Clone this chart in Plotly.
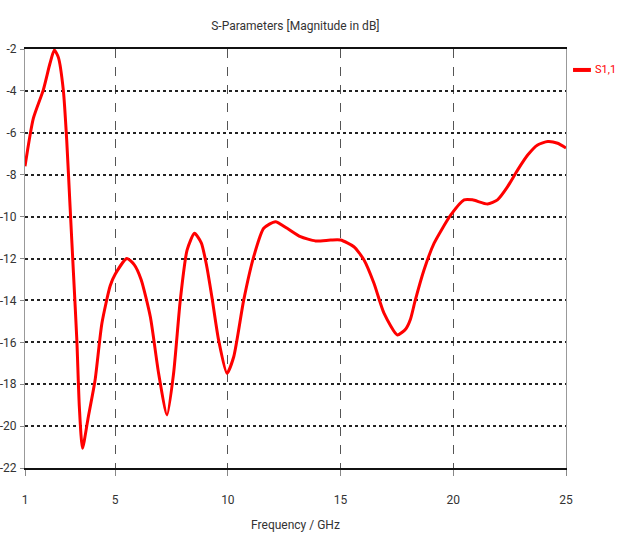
import plotly.graph_objects as go

# S11 magnitude of the antenna, sampled along the frequency sweep
freq_ghz = [1.0, 1.37, 1.81, 2.11, 2.30, 2.48, 2.70, 2.85, 3.0, 3.15, 3.30, 3.41, 3.55,
            3.81, 4.11, 4.41, 4.78, 5.0, 5.52, 5.85, 6.15, 6.56, 6.93, 7.30, 7.59, 7.89,
            8.19, 8.52, 8.82, 9.05, 9.30, 9.59, 9.96, 10.26, 10.70, 11.15, 11.59, 12.11,
            12.63, 13.22, 13.89, 14.56, 15.0, 15.59, 16.04, 16.48, 16.93, 17.52,
            17.9, 18.1, 18.3, 18.7, 19.15, 19.89, 20.48, 20.85, 21.52, 21.96, 22.41,
            22.85, 23.3, 23.74, 24.19, 24.63, 25.0]
s11_db = [-7.6, -5.31, -3.96, -2.68, -2.05, -2.4, -3.96, -6.34, -9.53, -12.7, -15.9,
          -19.07, -21.06, -19.55, -17.8, -15.1, -13.3, -12.75, -12.0, -12.3, -13.0,
          -14.78, -17.5, -19.47, -17.5, -13.98, -11.6, -10.8, -11.25, -12.3, -13.9,
          -15.9, -17.48, -16.69, -14.0, -11.9, -10.56, -10.24, -10.56, -10.96, -11.16,
          -11.12, -11.12, -11.44, -12.07, -13.18, -14.62, -15.65, -15.35, -14.9,
          -14.05, -12.55, -11.27, -9.92, -9.2, -9.2, -9.4, -9.2, -8.57, -7.78, -7.06,
          -6.58, -6.42, -6.5, -6.72]

x_ticks = [1, 5, 10, 15, 20, 25]
y_ticks = [-2, -4, -6, -8, -10, -12, -14, -16, -18, -20, -22]

FONT = "Roboto, Liberation Sans, sans-serif"
TEXT = "#333333"
RED = "#ff0000"

fig = go.Figure()
fig.add_trace(go.Scatter(
    x=freq_ghz, y=s11_db, mode="lines", name="S1,1",
    line=dict(color=RED, width=3, shape="spline", smoothing=0.6),
    showlegend=False,
))

# legend key drawn in the right margin
fig.add_shape(type="line", xref="paper", yref="paper",
              x0=1.013, x1=1.046, y0=0.950, y1=0.950,
              line=dict(color=RED, width=4))
fig.add_annotation(text="S1,1", xref="paper", yref="paper",
                   x=1.050, y=0.950, xanchor="left", yanchor="middle",
                   showarrow=False, font=dict(family=FONT, size=11, color=RED))

fig.update_layout(
    width=618, height=536,
    margin=dict(l=25, r=52, t=49, b=68, autoexpand=False),
    paper_bgcolor="white", plot_bgcolor="white",
    font=dict(family=FONT, size=12, color=TEXT),
    title=dict(text="S-Parameters [Magnitude in dB]", x=0.478, xanchor="center",
               y=1 - 26 / 536, yanchor="middle",
               font=dict(family=FONT, size=12, color=TEXT)),
    showlegend=False,
)

fig.update_xaxes(
    range=[1, 25], tickvals=x_ticks, ticktext=[str(v) for v in x_ticks],
    showline=True, linecolor="#111111", linewidth=2, mirror=True,
    showgrid=True, gridcolor="#555555", gridwidth=1, griddash="dash",
    ticks="outside", ticklen=6, tickcolor="#888888",
    ticklabelstandoff=14, zeroline=False, automargin=False,
    tickfont=dict(family=FONT, size=12, color=TEXT),
    title=dict(text="Frequency / GHz", standoff=14,
               font=dict(family=FONT, size=12, color=TEXT)),
)
fig.update_yaxes(
    range=[-22, -2], tickvals=y_ticks, ticktext=[str(v) for v in y_ticks],
    showline=True, linecolor="#999999", linewidth=1, mirror=True,
    showgrid=True, gridcolor="#222222", gridwidth=1.5, griddash="dot",
    ticks="outside", ticklen=4, tickcolor="#888888",
    ticklabelstandoff=1, zeroline=False, automargin=False,
    tickfont=dict(family=FONT, size=12, color=TEXT),
)

fig.write_html("out.html")
